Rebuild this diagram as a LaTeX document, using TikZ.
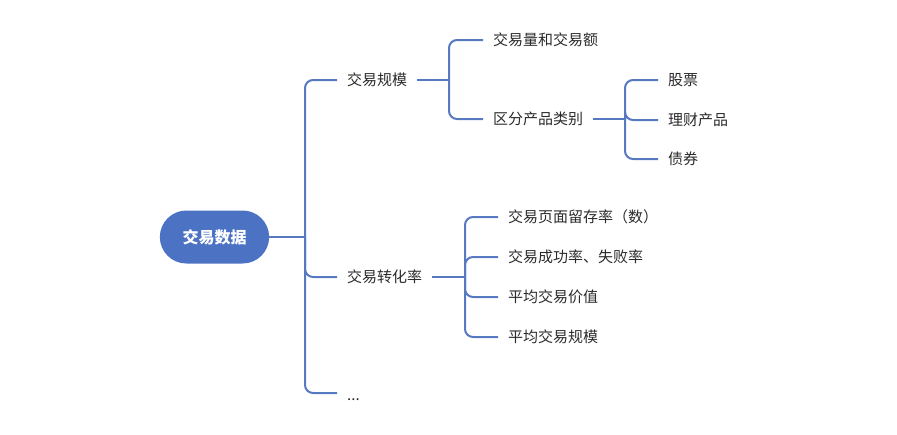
\documentclass[tikz,border=0pt]{standalone}
\usepackage{fontspec}
\newfontfamily\cjk{Noto Sans CJK SC}
\usetikzlibrary{shapes.misc}
\definecolor{rootc}{HTML}{4C72C4}
\definecolor{linec}{HTML}{5679C2}
\definecolor{txt}{HTML}{2A2A2A}
\begin{document}
\begin{tikzpicture}[x=1pt,y=-1pt,
  conn/.style={draw=linec, line width=2pt, rounded corners=8pt},
  lbl/.style={font=\cjk\fontsize{15}{18}\selectfont, text=txt, inner xsep=10pt, inner ysep=2pt, anchor=west},
  rootn/.style={rounded rectangle, fill=rootc, minimum width=116pt, minimum height=53pt, text=white, font=\cjk\bfseries\fontsize{16}{19}\selectfont}]
\useasboundingbox (0,0) rectangle (897,434);
\node[rootn] (root) at (214.5,237) {交易数据};
\node[lbl] (a) at (337,80) {交易规模};
\node[lbl] (b) at (337,277) {交易转化率};
\coordinate (cw) at (337,393);
\node[lbl, yshift=-7pt] (c) at (cw) {...};
\node[lbl] (a1) at (483,40) {交易量和交易额};
\node[lbl] (a2) at (483,119) {区分产品类别};
\node[lbl] (a21) at (658,80) {股票};
\node[lbl] (a22) at (658,120) {理财产品};
\node[lbl] (a23) at (658,159) {债券};
\node[lbl] (b1) at (498,217) {交易页面留存率（数）};
\node[lbl] (b2) at (498,257) {交易成功率、失败率};
\node[lbl] (b3) at (498,297) {平均交易价值};
\node[lbl] (b4) at (498,337) {平均交易规模};
\coordinate (j0) at (305,237);
\coordinate (ja) at (449,80);
\coordinate (ja2) at (625,119);
\coordinate (jb) at (465,277);
\draw[conn] (root.east) -- (j0);
\foreach \n in {a.west,b.west,cw} \draw[conn] (j0) |- (\n);
\draw[conn] (a.east) -- (ja);
\foreach \n in {a1,a2} \draw[conn] (ja) |- (\n.west);
\draw[conn] (a2.east) -- (ja2);
\foreach \n in {a21,a22,a23} \draw[conn] (ja2) |- (\n.west);
\draw[conn] (b.east) -- (jb);
\foreach \n in {b1,b2,b3,b4} \draw[conn] (jb) |- (\n.west);
\end{tikzpicture}
\end{document}
